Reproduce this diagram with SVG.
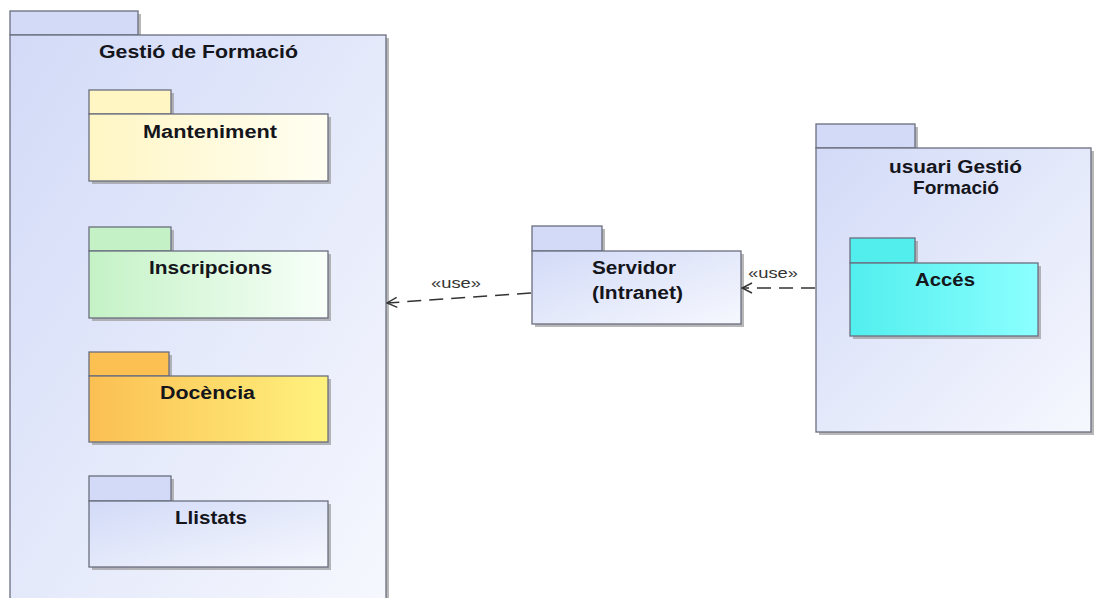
<svg xmlns="http://www.w3.org/2000/svg" width="1094" height="598" viewBox="0 0 1094 598">
<style>
.b{stroke:#6a6e7e;stroke-width:1.3}
.sh{fill:#9a9a9a;opacity:0.7}
.t{font-family:"Liberation Sans",Arial,sans-serif;font-weight:bold;font-size:18px;fill:#15151c;text-anchor:middle}
.u{font-family:"Liberation Sans",Arial,sans-serif;font-size:15px;fill:#333;text-anchor:middle}
.c{fill:none;stroke:#333;stroke-width:1.5;stroke-dasharray:14 8}
</style>
<defs>
<linearGradient id="gBlue" x1="0" y1="0" x2="1" y2="1"><stop offset="0" stop-color="#d2daf7"/><stop offset="1" stop-color="#f6f8fe"/></linearGradient>
<linearGradient id="gYel" x1="0" y1="0" x2="1" y2="0"><stop offset="0" stop-color="#fff6c4"/><stop offset="1" stop-color="#fffef2"/></linearGradient>
<linearGradient id="gGrn" x1="0" y1="0" x2="1" y2="0"><stop offset="0" stop-color="#c4f2c6"/><stop offset="1" stop-color="#f8fff9"/></linearGradient>
<linearGradient id="gOr" x1="0" y1="0" x2="1" y2="0"><stop offset="0" stop-color="#fbbf52"/><stop offset="1" stop-color="#fff27e"/></linearGradient>
<linearGradient id="gCy" x1="0" y1="0" x2="1" y2="0"><stop offset="0" stop-color="#52eeee"/><stop offset="1" stop-color="#8cffff"/></linearGradient>
<marker id="open" viewBox="0 0 12 12" refX="11" refY="6" markerWidth="12" markerHeight="12" markerUnits="userSpaceOnUse" orient="auto">
<path d="M1,1 L11,6 L1,11" fill="none" stroke="#333" stroke-width="1.4"/>
</marker>
</defs>
<rect width="1094" height="598" fill="#ffffff"/>

<g id="gestio-de-formacio">
<rect class="sh" x="13" y="14" width="128" height="24"/>
<rect class="sh" x="13" y="38" width="376" height="570"/>
<rect class="b" x="10" y="11" width="128" height="24" fill="#d2daf7"/>
<rect class="b" x="10" y="35" width="376" height="570" fill="url(#gBlue)"/>
<text class="t" x="198.5" y="58" textLength="199" lengthAdjust="spacingAndGlyphs">Gestió de Formació</text>
</g>

<g id="manteniment">
<rect class="sh" x="92" y="93" width="82" height="24"/>
<rect class="sh" x="92" y="117" width="239" height="67"/>
<rect class="b" x="89" y="90" width="82" height="24" fill="#fff6c4"/>
<rect class="b" x="89" y="114" width="239" height="67" fill="url(#gYel)"/>
<text class="t" x="210" y="138" textLength="134" lengthAdjust="spacingAndGlyphs">Manteniment</text>
</g>

<g id="inscripcions">
<rect class="sh" x="92" y="230" width="82" height="24"/>
<rect class="sh" x="92" y="254" width="239" height="67"/>
<rect class="b" x="89" y="227" width="82" height="24" fill="#c4f2c6"/>
<rect class="b" x="89" y="251" width="239" height="67" fill="url(#gGrn)"/>
<text class="t" x="210.5" y="274" textLength="123" lengthAdjust="spacingAndGlyphs">Inscripcions</text>
</g>

<g id="docencia">
<rect class="sh" x="92" y="355" width="80" height="24"/>
<rect class="sh" x="92" y="379" width="239" height="66"/>
<rect class="b" x="89" y="352" width="80" height="24" fill="#fbbf52"/>
<rect class="b" x="89" y="376" width="239" height="66" fill="url(#gOr)"/>
<text class="t" x="207.5" y="399" textLength="95" lengthAdjust="spacingAndGlyphs">Docència</text>
</g>

<g id="llistats">
<rect class="sh" x="92" y="479" width="82" height="25"/>
<rect class="sh" x="92" y="504" width="239" height="66"/>
<rect class="b" x="89" y="476" width="82" height="25" fill="#d2daf7"/>
<rect class="b" x="89" y="501" width="239" height="66" fill="url(#gBlue)"/>
<text class="t" x="211" y="524" textLength="72" lengthAdjust="spacingAndGlyphs">Llistats</text>
</g>

<g id="servidor">
<rect class="sh" x="535" y="229" width="70" height="25"/>
<rect class="sh" x="535" y="254" width="209" height="73"/>
<rect class="b" x="532" y="226" width="70" height="25" fill="#d2daf7"/>
<rect class="b" x="532" y="251" width="209" height="73" fill="url(#gBlue)"/>
<text class="t" x="634" y="274" textLength="84" lengthAdjust="spacingAndGlyphs">Servidor</text>
<text class="t" x="637.5" y="299" textLength="91" lengthAdjust="spacingAndGlyphs">(Intranet)</text>
</g>

<g id="usuari-gestio-formacio">
<rect class="sh" x="819" y="127" width="99" height="24"/>
<rect class="sh" x="819" y="151" width="275" height="284"/>
<rect class="b" x="816" y="124" width="99" height="24" fill="#d2daf7"/>
<rect class="b" x="816" y="148" width="275" height="284" fill="url(#gBlue)"/>
<text class="t" x="955.5" y="173" textLength="133" lengthAdjust="spacingAndGlyphs">usuari Gestió</text>
<text class="t" x="956" y="194" textLength="86" lengthAdjust="spacingAndGlyphs">Formació</text>
</g>

<g id="acces">
<rect class="sh" x="853" y="241" width="65" height="25"/>
<rect class="sh" x="853" y="266" width="188" height="73"/>
<rect class="b" x="850" y="238" width="65" height="25" fill="#52eeee"/>
<rect class="b" x="850" y="263" width="188" height="73" fill="url(#gCy)"/>
<text class="t" x="945" y="286" textLength="60" lengthAdjust="spacingAndGlyphs">Accés</text>
</g>

<g id="connectors">
<line class="c" x1="531" y1="293" x2="387" y2="303" marker-end="url(#open)"/>
<text class="u" x="456" y="288" textLength="50" lengthAdjust="spacingAndGlyphs">«use»</text>
<line class="c" x1="815" y1="288" x2="742" y2="288" marker-end="url(#open)"/>
<text class="u" x="773" y="278" textLength="50" lengthAdjust="spacingAndGlyphs">«use»</text>
</g>
</svg>
